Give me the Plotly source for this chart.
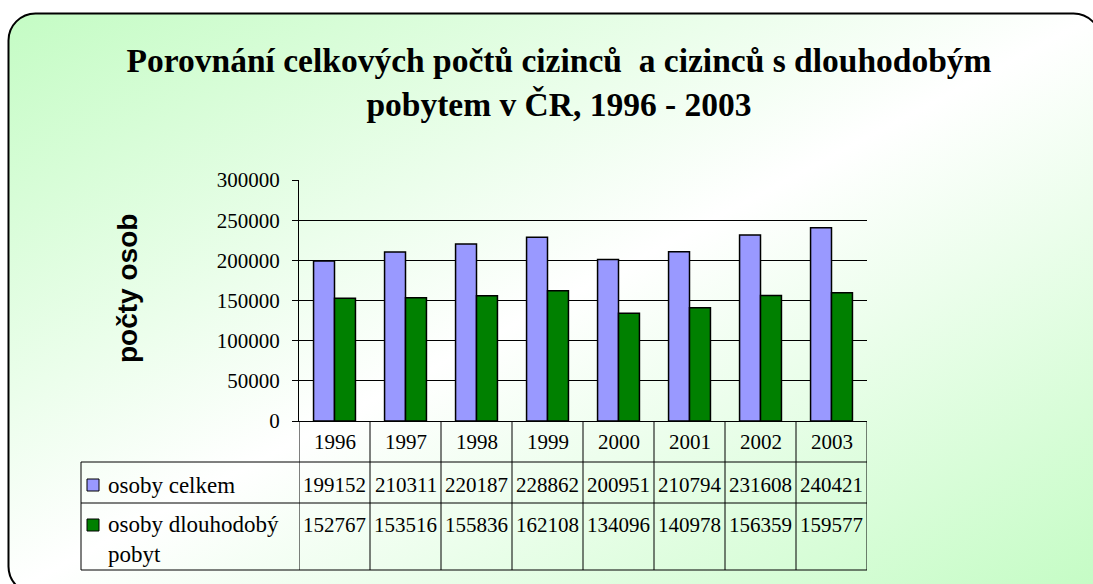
import base64
import plotly.graph_objects as go

# ---- data ----
years = ["1996", "1997", "1998", "1999", "2000", "2001", "2002", "2003"]
osoby_celkem = [199152, 210311, 220187, 228862, 200951, 210794, 231608, 240421]
osoby_dlouhodoby = [152767, 153516, 155836, 162108, 134096, 140978, 156359, 159577]
series_names = ["osoby celkem", "osoby dlouhodobý<br>pobyt"]
series_colors = ["#9999ff", "#008000"]
y_ticks = [0, 50000, 100000, 150000, 200000, 250000, 300000]
title_text = "Porovnání celkových počtů cizinců\u00a0 a cizinců s dlouhodobým<br>pobytem v ČR, 1996 - 2003"
y_title = "počty osob"

# ---- layout geometry (pixels) ----
W, H = 1093, 584
ML, MR, MT, MB = 299, 226, 180, 163
PW, PH = W - ML - MR, H - MT - MB


def px_x(p):
    return (p - ML) / PW


def px_y(p):
    return (H - MB - p) / PH


serif = "Liberation Serif"
sans = "Liberation Sans"

fig = go.Figure()
for name, vals, col in zip(series_names, [osoby_celkem, osoby_dlouhodoby], series_colors):
    fig.add_trace(go.Bar(x=years, y=vals, name=name, marker=dict(color=col, line=dict(color="black", width=1.5))))

# background: rounded frame with diagonal gradient
svg = f"""<svg xmlns='http://www.w3.org/2000/svg' width='{W}' height='{H}' viewBox='0 0 {W} {H}' preserveAspectRatio='none'>
<defs><linearGradient id='g' x1='0' y1='0' x2='1' y2='1'>
<stop offset='0' stop-color='#c4fcc4'/><stop offset='0.5' stop-color='#ffffff'/><stop offset='1' stop-color='#c4fcc4'/>
</linearGradient></defs>
<rect x='8.5' y='13.5' width='1092' height='580' rx='27' ry='27' fill='url(#g)' stroke='black' stroke-width='2'/>
</svg>"""
src = "data:image/svg+xml;base64," + base64.b64encode(svg.encode("utf-8")).decode("ascii")

shapes = []
# table vertical lines at category boundaries
y_hdr, y_r1, y_r2 = px_y(462), px_y(503), px_y(570)
x_left = px_x(81)
for i in range(len(years) + 1):
    shapes.append(dict(type="line", xref="x", yref="paper", x0=i - 0.5, x1=i - 0.5, y0=0, y1=y_r2,
                       line=dict(color="black", width=1)))
for yy in [y_hdr, y_r1, y_r2]:
    shapes.append(dict(type="line", xref="paper", yref="paper", x0=x_left, x1=1, y0=yy, y1=yy,
                       line=dict(color="black", width=1)))
shapes.append(dict(type="line", xref="paper", yref="paper", x0=x_left, x1=x_left, y0=y_hdr, y1=y_r2,
                   line=dict(color="black", width=1)))

annotations = []
# years header (x = category index on the category axis)
for i, yr in enumerate(years):
    annotations.append(dict(x=i, y=px_y(442), xref="x", yref="paper", text=yr, showarrow=False,
                            font=dict(family=serif, size=21, color="black"), xanchor="center", yanchor="middle"))
# values
row_y = [px_y(485), px_y(525)]
for vals, ry in zip([osoby_celkem, osoby_dlouhodoby], row_y):
    for i, v in enumerate(vals):
        annotations.append(dict(x=i, y=ry, xref="x", yref="paper", text=str(v), showarrow=False,
                                font=dict(family=serif, size=21, color="black"), xanchor="center", yanchor="middle"))
# legend column
for name, col, ry in zip(series_names, series_colors, row_y):
    shapes.append(dict(type="rect", xref="paper", yref="paper", xsizemode="pixel", ysizemode="pixel",
                       xanchor=px_x(93), yanchor=ry, x0=-6, x1=6, y0=-6, y1=6,
                       fillcolor=col, line=dict(color="black", width=1)))
    multi = "<br>" in name
    annotations.append(dict(x=px_x(106), y=ry, xref="paper", yref="paper", text=name, showarrow=False,
                            font=dict(family=serif, size=23, color="black"), xanchor="left",
                            yanchor="top" if multi else "middle", align="left", yshift=15 if multi else 0))
# y-axis title
annotations.append(dict(x=px_x(127), y=px_y(289), xref="paper", yref="paper", text=f"<b>{y_title}</b>",
                        showarrow=False, textangle=-90, font=dict(family=sans, size=28, color="black"),
                        xanchor="center", yanchor="middle"))

fig.update_layout(
    width=W, height=H,
    margin=dict(l=ML, r=MR, t=MT, b=MB, pad=0),
    paper_bgcolor="white", plot_bgcolor="white",
    barmode="group", bargap=0.41, bargroupgap=0,
    showlegend=False,
    title=dict(text=f"<b>{title_text}</b>", x=559 / W, y=1 - 72 / H, xref="container", yref="container",
               xanchor="center", yanchor="middle", font=dict(family=serif, size=33.5, color="black")),
    xaxis=dict(type="category", range=[-0.5, len(years) - 0.5], showticklabels=False, ticks="",
               showgrid=False, showline=True, linecolor="black", linewidth=1, zeroline=False),
    yaxis=dict(range=[0, 300000], tickvals=y_ticks, tickformat="d", ticks="outside", ticklen=6,
               tickcolor="black", tickwidth=1, showline=True, linecolor="black", linewidth=1,
               showgrid=True, gridcolor="black", gridwidth=1, zeroline=True, zerolinecolor="black",
               zerolinewidth=1, tickfont=dict(family=serif, size=21, color="black"), ticklabelstandoff=8),
    images=[dict(source=src, xref="paper", yref="paper", x=px_x(0), y=px_y(0), sizex=W / PW, sizey=H / PH,
                 xanchor="left", yanchor="top", sizing="stretch", layer="below")],
    shapes=shapes,
    annotations=annotations,
)

fig.write_html("out.html", config={"displayModeBar": False},
               post_script="document.body.style.margin='0';document.body.style.padding='0';")
